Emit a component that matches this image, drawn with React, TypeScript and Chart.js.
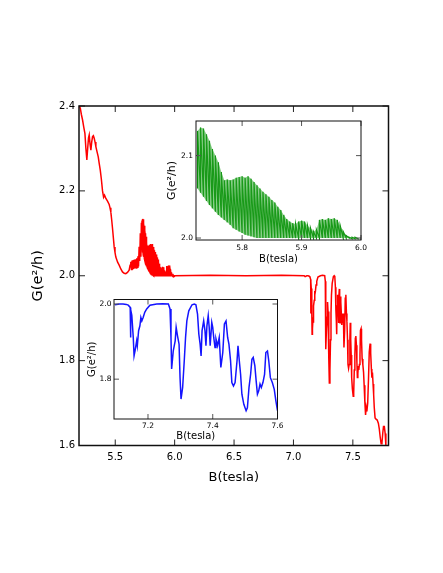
import React, { useEffect, useRef } from 'react';
import { Chart, registerables } from 'chart.js';

Chart.register(...registerables);

const FONT = "'DejaVu Sans', Verdana, sans-serif";

// ---------- Red main trace: low-field part (B in tesla, G in e^2/h) ----------
const redStartB = [
  5.197, 5.206, 5.215, 5.225, 5.235, 5.245, 5.253, 5.261, 5.268, 5.275, 5.281, 5.288,
  5.295, 5.302, 5.309, 5.316, 5.323, 5.330, 5.337, 5.347, 5.357, 5.365, 5.374, 5.383,
  5.393, 5.402, 5.410, 5.421, 5.435, 5.449, 5.456, 5.463, 5.470, 5.477, 5.484, 5.491,
  5.498, 5.505, 5.520, 5.533, 5.547, 5.561, 5.575, 5.589, 5.603, 5.617, 5.625, 5.631,
  5.636, 5.641, 5.646, 5.651, 5.656, 5.661, 5.666, 5.671, 5.676, 5.681, 5.686, 5.691,
  5.696, 5.701, 5.706, 5.711, 5.716, 5.720,
];
const redStartG = [
  2.400, 2.395, 2.380, 2.367, 2.350, 2.335, 2.300, 2.273, 2.300, 2.325, 2.332, 2.310,
  2.296, 2.315, 2.328, 2.330, 2.324, 2.315, 2.304, 2.292, 2.280, 2.265, 2.249, 2.228,
  2.200, 2.185, 2.190, 2.182, 2.176, 2.168, 2.160, 2.150, 2.132, 2.112, 2.090, 2.068,
  2.055, 2.044, 2.032, 2.025, 2.016, 2.009, 2.006, 2.005, 2.008, 2.013, 2.025, 2.033,
  2.015, 2.036, 2.014, 2.037, 2.016, 2.038, 2.018, 2.039, 2.018, 2.041, 2.020, 2.046,
  2.022, 2.068, 2.035, 2.100, 2.045, 2.125,
];

// ---------- Oscillating region (green inset, also part of the red trace) ----------
const greenB = [
  5.725, 5.730, 5.735, 5.740, 5.745, 5.750, 5.755, 5.760, 5.765, 5.770, 5.775,
  5.780, 5.785, 5.790, 5.795, 5.800, 5.805, 5.810, 5.815, 5.820, 5.825, 5.830,
  5.835, 5.840, 5.845, 5.850, 5.855, 5.860, 5.865, 5.870, 5.875, 5.880, 5.885,
  5.890, 5.895, 5.900, 5.905, 5.910, 5.915, 5.920, 5.925, 5.930, 5.935, 5.940,
  5.945, 5.950, 5.955, 5.960, 5.965, 5.970, 5.975, 5.980, 5.985, 5.990, 5.995,
];
const greenHi = [
  2.130, 2.134, 2.133, 2.126, 2.118, 2.108, 2.100, 2.092, 2.080, 2.070, 2.071,
  2.070, 2.071, 2.073, 2.074, 2.075, 2.073, 2.075, 2.072, 2.068, 2.064, 2.060,
  2.056, 2.053, 2.050, 2.046, 2.043, 2.038, 2.034, 2.028, 2.023, 2.020, 2.018,
  2.017, 2.020, 2.021, 2.020, 2.015, 2.012, 2.008, 2.010, 2.022, 2.023, 2.022,
  2.024, 2.023, 2.024, 2.022, 2.015, 2.008, 2.003, 2.001, 2.001, 2.001, 2.000,
];
const greenLo = [
  2.060, 2.055, 2.050, 2.045, 2.040, 2.036, 2.032, 2.028, 2.025, 2.022, 2.019,
  2.016, 2.012, 2.010, 2.008, 2.006, 2.004, 2.003, 2.002, 2.001, 2.000, 2.000,
  2.000, 2.000, 2.000, 2.000, 2.000, 2.000, 2.000, 2.000, 2.000, 2.000, 2.000,
  2.000, 2.000, 2.000, 2.000, 2.000, 2.000, 2.000, 2.000, 2.000, 2.000, 2.000,
  2.000, 2.000, 2.000, 2.000, 2.000, 2.000, 2.000, 2.000, 1.999, 1.999, 1.999,
];

// ---------- Plateau ----------
const redFlatB = [6.000, 6.300, 6.600, 6.900, 7.090];
const redFlatG = [2.000, 2.001, 2.000, 2.001, 2.000];

// ---------- High-field fluctuations (blue inset, also part of the red trace) ----------
const blueB = [
  7.098, 7.112, 7.123, 7.133, 7.139, 7.145, 7.146, 7.147, 7.150, 7.1545, 7.157, 7.160,
  7.165, 7.167, 7.171, 7.175, 7.178, 7.181, 7.185, 7.190, 7.196, 7.206, 7.227, 7.245,
  7.263, 7.268, 7.271, 7.273, 7.278, 7.284, 7.287, 7.291, 7.296, 7.299, 7.302, 7.307,
  7.312, 7.316, 7.320, 7.326, 7.336, 7.343, 7.348, 7.353, 7.357, 7.361, 7.364, 7.367,
  7.372, 7.376, 7.379, 7.382, 7.386, 7.389, 7.392, 7.397, 7.400, 7.403, 7.407, 7.410,
  7.415, 7.420, 7.425, 7.431, 7.436, 7.441, 7.446, 7.450, 7.455, 7.459, 7.464, 7.469,
  7.475, 7.478, 7.482, 7.486, 7.490, 7.496, 7.503, 7.507, 7.512, 7.517, 7.521, 7.525,
  7.530, 7.534, 7.538, 7.542, 7.546, 7.550, 7.555, 7.560, 7.564, 7.569, 7.573, 7.578,
  7.584, 7.590, 7.595, 7.600, 7.602,
];
const blueG = [
  1.998, 2.000, 2.000, 1.999, 1.997, 1.991, 1.911, 1.985, 1.970, 1.911, 1.862, 1.875,
  1.902, 1.889, 1.929, 1.942, 1.964, 1.955, 1.964, 1.978, 1.987, 1.997, 2.000, 2.001,
  2.000, 1.987, 1.911, 1.827, 1.875, 1.902, 1.938, 1.916, 1.893, 1.804, 1.747, 1.778,
  1.849, 1.911, 1.955, 1.982, 1.998, 2.000, 1.998, 1.973, 1.920, 1.893, 1.862, 1.929,
  1.955, 1.929, 1.889, 1.942, 1.969, 1.938, 1.889, 1.951, 1.938, 1.911, 1.884, 1.907,
  1.889, 1.911, 1.831, 1.871, 1.947, 1.955, 1.911, 1.893, 1.849, 1.791, 1.782, 1.791,
  1.849, 1.889, 1.849, 1.813, 1.760, 1.733, 1.716, 1.724, 1.778, 1.813, 1.853, 1.858,
  1.836, 1.796, 1.760, 1.769, 1.787, 1.778, 1.791, 1.813, 1.871, 1.875, 1.849, 1.804,
  1.791, 1.773, 1.742, 1.716, 1.702,
];

// ---------- Red tail beyond 7.6 T ----------
const redTailB = [
  7.607, 7.612, 7.618, 7.625, 7.632, 7.638, 7.645, 7.650, 7.656, 7.660, 7.665, 7.670,
  7.675, 7.680, 7.687, 7.695, 7.705, 7.715, 7.722, 7.730, 7.738, 7.745, 7.752, 7.758,
  7.765, 7.772, 7.778, 7.790, 7.800,
];
const redTailG = [
  1.672, 1.690, 1.680, 1.700, 1.760, 1.820, 1.840, 1.818, 1.780, 1.760, 1.772, 1.745,
  1.720, 1.690, 1.665, 1.662, 1.660, 1.652, 1.640, 1.620, 1.604, 1.606, 1.630, 1.645,
  1.645, 1.628, 1.600, 1.598, 1.600,
];

// ---------- Tick values ----------
const mainXTicks = [5.5, 6.0, 6.5, 7.0, 7.5];
const mainYTicks = [1.6, 1.8, 2.0, 2.2, 2.4];
const greenXTicks = [5.8, 5.9, 6.0];
const greenYTicks = [2.0, 2.1];
const blueXTicks = [7.2, 7.4, 7.6];
const blueYTicks = [1.8, 2.0];

const X_TITLE = 'B(tesla)';
const Y_TITLE = 'G(e²/h)';

type Pt = { x: number; y: number };
const pairs = (xs: number[], ys: number[]): Pt[] => xs.map((x, i) => ({ x, y: ys[i] }));
const sawtooth = (xs: number[], lo: number[], hi: number[]): Pt[] => {
  const out: Pt[] = [];
  xs.forEach((x, i) => {
    out.push({ x, y: lo[i] }, { x, y: hi[i] });
  });
  return out;
};

const greenPoints = sawtooth(greenB, greenLo, greenHi);
const greenHiEnv = pairs(greenB, greenHi);
const greenLoEnv = pairs(greenB, greenLo);
const bluePoints = pairs(blueB, blueG);
const redPoints = [
  ...pairs(redStartB, redStartG),
  ...greenPoints,
  ...pairs(redFlatB, redFlatG),
  ...bluePoints,
  ...pairs(redTailB, redTailG),
];

const frameTicks = {
  id: 'frameTicks',
  afterDatasetsDraw(chart: any, _a: any, o: any) {
    const { ctx, chartArea: a, scales } = chart;
    const len = o.len;
    ctx.save();
    ctx.strokeStyle = o.tickColor;
    ctx.lineWidth = o.tickWidth;
    ctx.beginPath();
    for (const t of scales.x.ticks) {
      const px = scales.x.getPixelForValue(t.value);
      ctx.moveTo(px, a.bottom);
      ctx.lineTo(px, a.bottom - len);
      ctx.moveTo(px, a.top);
      ctx.lineTo(px, a.top + len);
    }
    for (const t of scales.y.ticks) {
      const py = scales.y.getPixelForValue(t.value);
      ctx.moveTo(a.left, py);
      ctx.lineTo(a.left + len, py);
      ctx.moveTo(a.right, py);
      ctx.lineTo(a.right - len, py);
    }
    ctx.stroke();
    ctx.strokeStyle = o.frameColor;
    ctx.lineWidth = o.frameWidth;
    ctx.strokeRect(a.left, a.top, a.right - a.left, a.bottom - a.top);
    ctx.restore();
  },
};

const W = 443;
const H = 573;

interface Spec {
  points: Pt[];
  color: string;
  lineWidth: number;
  bandColor: string;
  xMin: number; xMax: number; yMin: number; yMax: number;
  xTicks: number[]; yTicks: number[];
  area: { l: number; r: number; t: number; b: number };
  yTitleX: number; xTitleY: number;
  tickSize: number; xTitleSize: number; yTitleSize: number;
  xTickPad: number; yTickPad: number;
  tickLen: number; frameWidth: number; tickColor: string;
}

function config(s: Spec): any {
  const yLH = s.yTitleSize * 1.2;
  const xLH = s.xTitleSize * 1.2;
  const padLeft = s.yTitleX - yLH / 2;
  const yWidth = s.area.l - padLeft;
  const xHeight = s.xTitleY + xLH / 2 - s.area.b;
  const padBottom = H - s.area.b - xHeight;
  const tickFont = { family: FONT, size: s.tickSize, lineHeight: 1.2 };
  const datasets: any[] = [];
  if (s.bandColor) {
    // envelope of the fast oscillation, drawn as a light band under the trace
    datasets.push(
      { data: greenHiEnv, borderWidth: 0, pointRadius: 0, backgroundColor: s.bandColor, fill: '+1', tension: 0 },
      { data: greenLoEnv, borderWidth: 0, pointRadius: 0, fill: false, tension: 0 },
    );
  }
  datasets.push({
    data: s.points,
    borderColor: s.color,
    borderWidth: s.lineWidth,
    pointRadius: 0,
    tension: 0,
    fill: false,
  });
  return {
    type: 'line',
    data: { datasets },
    options: {
      responsive: false,
      maintainAspectRatio: false,
      animation: false,
      devicePixelRatio: 1,
      parsing: false,
      events: [],
      layout: {
        padding: { left: padLeft, right: W - s.area.r, top: s.area.t, bottom: padBottom },
      },
      plugins: {
        legend: { display: false },
        tooltip: { enabled: false },
        filler: { propagate: false },
        frameTicks: {
          len: s.tickLen,
          tickColor: s.tickColor,
          tickWidth: 1,
          frameColor: '#111',
          frameWidth: s.frameWidth,
        },
      },
      scales: {
        x: {
          type: 'linear',
          min: s.xMin,
          max: s.xMax,
          afterBuildTicks: (sc: any) => { sc.ticks = s.xTicks.map((value) => ({ value })); },
          afterFit: (sc: any) => { sc.height = xHeight; },
          grid: { display: false, drawTicks: false },
          border: { display: false },
          ticks: {
            font: tickFont,
            color: '#000',
            padding: s.xTickPad,
            maxRotation: 0,
            autoSkip: false,
            callback: (v: any) => Number(v).toFixed(1),
          },
          title: {
            display: true,
            text: X_TITLE,
            color: '#000',
            padding: 0,
            font: { family: FONT, size: s.xTitleSize, lineHeight: 1.2 },
          },
        },
        y: {
          type: 'linear',
          min: s.yMin,
          max: s.yMax,
          afterBuildTicks: (sc: any) => { sc.ticks = s.yTicks.map((value) => ({ value })); },
          afterFit: (sc: any) => { sc.width = yWidth; },
          grid: { display: false, drawTicks: false },
          border: { display: false },
          ticks: {
            font: tickFont,
            color: '#000',
            padding: s.yTickPad,
            autoSkip: false,
            callback: (v: any) => Number(v).toFixed(1),
          },
          title: {
            display: true,
            text: Y_TITLE,
            color: '#000',
            padding: 0,
            font: { family: FONT, size: s.yTitleSize, lineHeight: 1.2 },
          },
        },
      },
    },
    plugins: [frameTicks],
  };
}

const mainSpec: Spec = {
  points: redPoints,
  color: '#ff0000',
  lineWidth: 1.5,
  bandColor: 'rgba(255,0,0,0.85)',
  xMin: 5.195, xMax: 7.8, yMin: 1.6, yMax: 2.4,
  xTicks: mainXTicks, yTicks: mainYTicks,
  area: { l: 79, r: 388.5, t: 106, b: 445.5 },
  yTitleX: 38.5, xTitleY: 478,
  tickSize: 10, xTitleSize: 13, yTitleSize: 14.5,
  xTickPad: 6, yTickPad: 4,
  tickLen: 6, frameWidth: 1.5, tickColor: '#222',
};

const greenSpec: Spec = {
  points: greenPoints,
  color: '#078c07',
  lineWidth: 1.2,
  bandColor: 'rgba(40,165,40,0.55)',
  xMin: 5.7224, xMax: 6.0, yMin: 1.9976, yMax: 2.142,
  xTicks: greenXTicks, yTicks: greenYTicks,
  area: { l: 196, r: 361, t: 121, b: 240 },
  yTitleX: 172, xTitleY: 259,
  tickSize: 7.5, xTitleSize: 10, yTitleSize: 11,
  xTickPad: 4, yTickPad: 3,
  tickLen: 5, frameWidth: 1, tickColor: '#555',
};

const blueSpec: Spec = {
  points: bluePoints,
  color: '#1414ff',
  lineWidth: 1.5,
  bandColor: '',
  xMin: 7.095, xMax: 7.6, yMin: 1.694, yMax: 2.012,
  xTicks: blueXTicks, yTicks: blueYTicks,
  area: { l: 114, r: 277.5, t: 299.5, b: 419 },
  yTitleX: 92.5, xTitleY: 436,
  tickSize: 7.5, xTitleSize: 10, yTitleSize: 10,
  xTickPad: 3, yTickPad: 2.5,
  tickLen: 5, frameWidth: 1, tickColor: '#555',
};

const canvasStyle: React.CSSProperties = { position: 'absolute', left: 0, top: 0 };

export default function App() {
  const mainRef = useRef<HTMLCanvasElement>(null);
  const greenRef = useRef<HTMLCanvasElement>(null);
  const blueRef = useRef<HTMLCanvasElement>(null);

  useEffect(() => {
    const charts = [
      new Chart(mainRef.current as HTMLCanvasElement, config(mainSpec)),
      new Chart(greenRef.current as HTMLCanvasElement, config(greenSpec)),
      new Chart(blueRef.current as HTMLCanvasElement, config(blueSpec)),
    ];
    return () => charts.forEach((c) => c.destroy());
  }, []);

  return (
    <div style={{ position: 'absolute', left: 0, top: 0, width: W, height: H, background: '#fff' }}>
      <canvas ref={mainRef} width={W} height={H} style={canvasStyle} />
      <canvas ref={greenRef} width={W} height={H} style={canvasStyle} />
      <canvas ref={blueRef} width={W} height={H} style={canvasStyle} />
    </div>
  );
}
